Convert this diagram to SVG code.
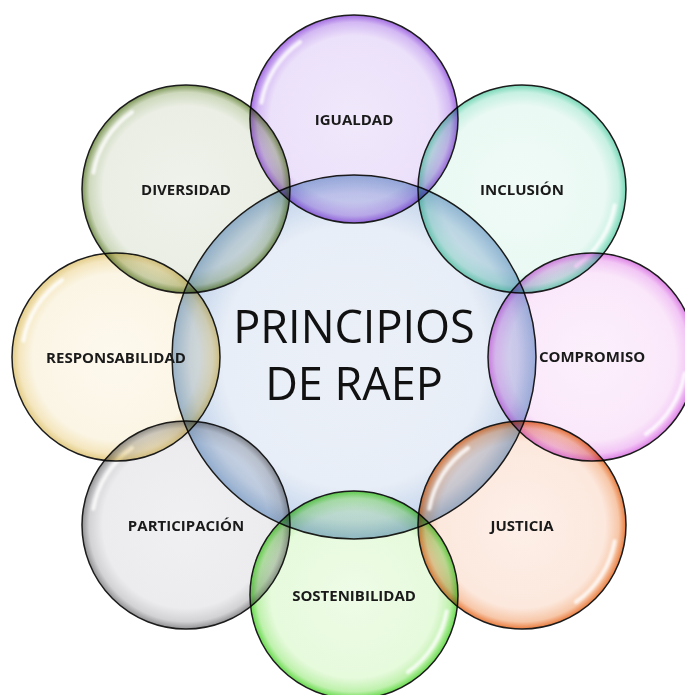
<svg xmlns="http://www.w3.org/2000/svg" xmlns:xlink="http://www.w3.org/1999/xlink" width="685" height="695" viewBox="0 0 685 695">
<style>
  .bub { stroke: #1c1c1c; stroke-width: 1.5; }
  .out { mix-blend-mode: multiply; }
  .lbl { font-family: "Open Sans", "Liberation Sans", sans-serif; font-weight: 700; font-size: 15px; fill: #1a1a1a; text-anchor: middle; }
  .ttl { font-family: "Open Sans", "Liberation Sans", sans-serif; font-weight: 400; font-size: 45px; fill: #111; text-anchor: middle; }
  .hl { fill: none; stroke: #ffffff; stroke-width: 4; stroke-linecap: round; opacity: 0.8; filter: url(#soft); }
</style>
<defs>
  <filter id="soft" x="-20%" y="-20%" width="140%" height="140%"><feGaussianBlur stdDeviation="1.2"/></filter>
  <radialGradient id="gC"><stop offset="0" stop-color="#EBF0F8"/><stop offset="0.72" stop-color="#E8EEF7"/><stop offset="0.9" stop-color="#CBDAEE"/><stop offset="1" stop-color="#9DBADC"/></radialGradient>
  <radialGradient id="gPur"><stop offset="0" stop-color="#F0E8FB"/><stop offset="0.8" stop-color="#ECE1FA"/><stop offset="0.93" stop-color="#D3B8F3"/><stop offset="1" stop-color="#A36CE2"/></radialGradient>
  <radialGradient id="gMin"><stop offset="0" stop-color="#F0FBF7"/><stop offset="0.8" stop-color="#EAF9F3"/><stop offset="0.93" stop-color="#C6F0E2"/><stop offset="1" stop-color="#76D7B6"/></radialGradient>
  <radialGradient id="gPin"><stop offset="0" stop-color="#FCF0FC"/><stop offset="0.8" stop-color="#FAE8FA"/><stop offset="0.93" stop-color="#F2C6F5"/><stop offset="1" stop-color="#DE82E6"/></radialGradient>
  <radialGradient id="gOra"><stop offset="0" stop-color="#FDEFE8"/><stop offset="0.8" stop-color="#FCE8DD"/><stop offset="0.93" stop-color="#F7C7A8"/><stop offset="1" stop-color="#E97B3D"/></radialGradient>
  <radialGradient id="gGre"><stop offset="0" stop-color="#EEFCE7"/><stop offset="0.8" stop-color="#E6FADC"/><stop offset="0.93" stop-color="#BFF1AD"/><stop offset="1" stop-color="#66DA4C"/></radialGradient>
  <radialGradient id="gGra"><stop offset="0" stop-color="#F0F0F2"/><stop offset="0.8" stop-color="#ECECEE"/><stop offset="0.93" stop-color="#D2D2D5"/><stop offset="1" stop-color="#919193"/></radialGradient>
  <radialGradient id="gYel"><stop offset="0" stop-color="#FDF9EE"/><stop offset="0.8" stop-color="#FBF5E5"/><stop offset="0.93" stop-color="#F4E6BE"/><stop offset="1" stop-color="#E3CC86"/></radialGradient>
  <radialGradient id="gOli"><stop offset="0" stop-color="#EFF2EB"/><stop offset="0.8" stop-color="#EAEEE4"/><stop offset="0.93" stop-color="#CDD8BC"/><stop offset="1" stop-color="#7C9655"/></radialGradient>
  <path id="hlA" class="hl" d="M -92.6 -16.3 A 94 94 0 0 1 -53.9 -77"/>
  <path id="hlB" class="hl" d="M 92.6 16.3 A 94 94 0 0 1 53.9 77"/>
</defs>
<rect width="685" height="695" fill="#ffffff"/>
<g id="connectors"/>
<g id="centro">
  <circle class="bub" cx="354" cy="357" r="182" fill="url(#gC)"/>
  <text class="ttl" x="354" y="343">PRINCIPIOS</text>
  <text class="ttl" x="354" y="400">DE RAEP</text>
</g>
<g id="igualdad">
  <circle class="bub out" cx="354" cy="119" r="104" fill="url(#gPur)"/>
  <use xlink:href="#hlA" x="354" y="119"/>
  <text class="lbl" x="354" y="125">IGUALDAD</text>
</g>
<g id="inclusion">
  <circle class="bub out" cx="522" cy="189" r="104" fill="url(#gMin)"/>
  <use xlink:href="#hlB" x="522" y="189"/>
  <text class="lbl" x="522" y="195">INCLUSIÓN</text>
</g>
<g id="compromiso">
  <circle class="bub out" cx="592" cy="357" r="104" fill="url(#gPin)"/>
  <use xlink:href="#hlB" x="592" y="357"/>
  <text class="lbl" x="592" y="362">COMPROMISO</text>
</g>
<g id="justicia">
  <circle class="bub out" cx="522" cy="525" r="104" fill="url(#gOra)"/>
  <use xlink:href="#hlA" x="522" y="525"/>
  <use xlink:href="#hlB" x="522" y="525"/>
  <text class="lbl" x="522" y="531">JUSTICIA</text>
</g>
<g id="sostenibilidad">
  <circle class="bub out" cx="354" cy="595" r="104" fill="url(#gGre)"/>
  <use xlink:href="#hlB" x="354" y="595"/>
  <text class="lbl" x="354" y="601">SOSTENIBILIDAD</text>
</g>
<g id="participacion">
  <circle class="bub out" cx="186" cy="525" r="104" fill="url(#gGra)"/>
  <use xlink:href="#hlA" x="186" y="525"/>
  <text class="lbl" x="186" y="531">PARTICIPACIÓN</text>
</g>
<g id="responsabilidad">
  <circle class="bub out" cx="116" cy="357" r="104" fill="url(#gYel)"/>
  <use xlink:href="#hlA" x="116" y="357"/>
  <text class="lbl" x="116" y="363">RESPONSABILIDAD</text>
</g>
<g id="diversidad">
  <circle class="bub out" cx="186" cy="189" r="104" fill="url(#gOli)"/>
  <use xlink:href="#hlA" x="186" y="189"/>
  <text class="lbl" x="186" y="195">DIVERSIDAD</text>
</g>
</svg>
